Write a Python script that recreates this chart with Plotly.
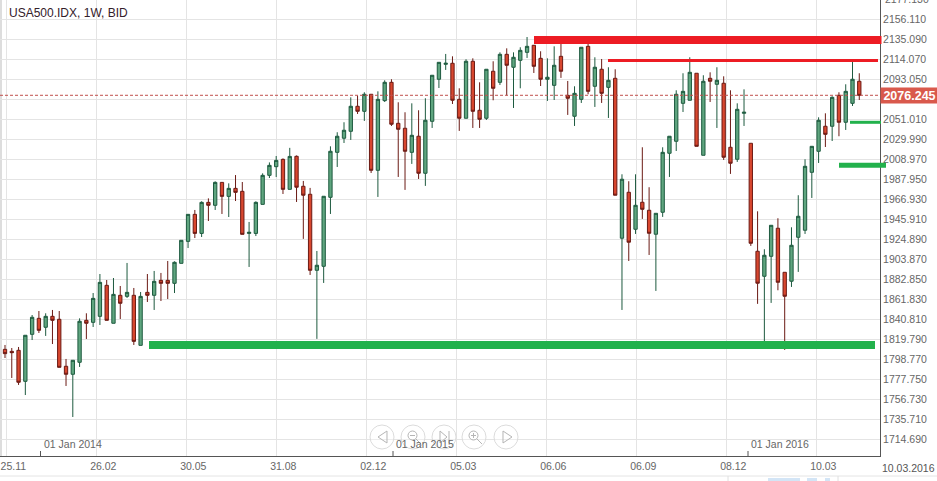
import plotly.graph_objects as go

opens = [1809.2,1807.1,1808.2,1775.6,1825.0,1841.8,1832.4,1843.9,1840.8,1791.4,
1783.0,1795.6,1839.7,1837.6,1843.9,1876.5,1836.6,1866.0,1864.9,1866.0,
1813.4,1869.1,1866.0,1881.7,1881.7,1878.6,1899.6,1922.7,1951.1,1931.1,
1963.7,1960.6,1984.7,1970.0,1978.4,1975.3,1931.1,1931.1,1961.6,1992.1,
2001.2,2008.9,1977.4,2012.1,1980.6,1972.2,1892.3,1896.5,1969.0,2016.3,
2031.1,2038.4,2064.7,2059.4,2077.3,1997.4,2070.6,2089.9,2046.8,2041.6,
2016.3,2033.2,1994.3,2048.9,2093.1,2108.8,2109.9,2072.0,2052.1,2112.0,
2060.5,2052.1,2101.5,2089.9,2119.3,2105.7,2113.0,2121.4,2128.8,2115.1,
2093.1,2086.7,2117.2,2076.2,2054.2,2072.0,2127.7,2085.7,2103.6,2084.6,
2094.1,1926.0,1974.3,1935.4,1963.8,1955.4,1930.2,1953.3,2015.3,2027.9,
2067.8,2071.0,2099.4,2013.2,2094.1,2087.8,2088.9,2021.6,2009.0,2057.3,
2025.8,1912.3,1886.0,1907.0,1936.5,1890.2,1880.8,1927.0,1934.4,1995.3,
2017.4,2043.7,2043.7,2076.2,2047.9,2067.8,2091.0]
highs = [1813.8,1810.6,1811.7,1824.0,1845.3,1849.5,1847.1,1850.6,1849.5,1799.1,
1797.7,1841.8,1847.1,1868.4,1888.4,1882.1,1884.2,1875.8,1900.0,1873.7,
1869.5,1888.4,1891.6,1889.5,1902.1,1901.7,1923.8,1951.1,1955.7,1964.8,
1967.9,1985.8,1984.7,1983.7,1992.4,1985.1,1943.1,1964.8,1994.2,2005.7,
2012.4,2009.9,2021.0,2013.0,1986.2,1978.9,1912.6,1970.1,2022.6,2037.4,
2047.9,2074.1,2075.9,2079.4,2077.3,2080.4,2092.0,2093.1,2068.9,2058.4,
2067.8,2060.5,2073.1,2097.3,2110.9,2119.7,2117.2,2083.6,2114.1,2115.1,
2089.9,2103.6,2112.0,2121.4,2125.6,2121.4,2126.7,2137.5,2129.1,2122.5,
2115.1,2127.7,2130.2,2091.3,2085.7,2126.7,2130.2,2116.2,2114.4,2105.7,
2103.6,1993.2,1985.9,1993.2,2021.6,1979.6,1952.2,2021.6,2033.2,2081.5,
2099.4,2116.2,2099.4,2097.3,2100.4,2105.7,2096.2,2081.5,2067.8,2082.5,
2025.8,1954.3,1914.4,1939.6,1947.0,1890.2,1937.5,1971.2,2009.0,2022.6,
2053.1,2057.3,2075.2,2079.4,2087.8,2111.2,2099.4]
lows = [1800.1,1779.1,1771.8,1761.2,1819.0,1826.4,1823.3,1814.8,1790.3,1770.7,
1738.1,1790.7,1820.1,1832.7,1834.8,1839.7,1836.6,1841.1,1863.2,1813.8,
1813.4,1859.0,1850.6,1860.0,1862.1,1868.4,1899.6,1915.7,1926.2,1927.3,
1944.1,1955.7,1951.5,1948.3,1965.1,1930.1,1895.8,1928.3,1961.6,1989.3,
1990.3,1972.5,1977.4,1964.1,1925.3,1887.4,1820.2,1879.0,1951.5,2000.9,
2026.1,2029.3,2056.6,2049.3,1994.6,1969.4,2069.2,2044.0,1990.4,1976.8,
2004.1,1988.3,1981.0,2041.9,2083.9,2102.9,2067.1,2038.8,2052.1,2041.9,
2041.9,2050.3,2071.0,2087.1,2076.2,2062.9,2083.6,2115.5,2099.7,2086.0,
2070.3,2071.3,2094.5,2055.6,2044.0,2068.2,2077.3,2064.0,2068.2,2052.4,
1971.2,1850.6,1902.1,1930.5,1946.3,1908.4,1870.6,1948.4,1990.4,2017.7,
2058.7,2071.0,2022.6,2013.2,2069.2,2041.9,2008.3,1993.6,2006.2,2044.0,
1917.9,1857.0,1817.4,1858.0,1871.3,1808.6,1874.8,1890.6,1930.5,1968.3,
2005.1,2021.9,2028.2,2033.2,2039.8,2065.0,2071.3]
closes = [1804.7,1805.7,1774.6,1824.0,1842.9,1829.2,1843.9,1839.7,1790.3,1783.0,
1797.7,1838.7,1836.6,1862.8,1879.6,1839.7,1867.0,1857.6,1869.1,1817.6,
1864.9,1866.0,1880.7,1878.6,1878.6,1900.7,1923.8,1951.1,1931.1,1963.7,
1960.6,1984.7,1970.0,1978.4,1974.2,1930.1,1932.2,1963.7,1992.1,2002.6,
2007.8,1977.4,2012.0,1979.6,1971.2,1892.3,1897.6,1970.1,2017.4,2033.2,
2039.5,2064.7,2059.4,2077.3,1997.4,2072.0,2089.9,2045.8,2040.5,2017.4,
2034.2,1994.3,2050.0,2097.3,2110.9,2109.9,2071.0,2052.1,2112.0,2059.4,
2051.0,2103.6,2083.6,2119.3,2107.8,2116.2,2123.5,2127.7,2106.7,2093.1,
2095.2,2107.8,2101.5,2073.1,2078.3,2126.7,2080.4,2105.7,2078.3,2092.0,
1971.2,1988.0,1921.8,1960.6,1956.4,1931.2,1952.2,2016.3,2033.2,2077.3,
2080.4,2100.4,2022.6,2091.0,2091.0,2092.0,2011.1,2004.8,2061.5,2058.4,
1920.7,1878.7,1908.1,1939.6,1879.7,1865.0,1918.6,1949.1,2001.6,2022.6,
2050.0,2035.2,2074.1,2047.9,2080.4,2093.1,2076.2]

y_ticks = [1714.69,1735.71,1756.73,1777.75,1798.77,1819.79,1840.81,1861.83,1882.85,1903.87,
1924.89,1945.91,1966.93,1987.95,2008.97,2029.99,2051.01,2072.03,2093.05,2114.07,2135.09,2156.11]
y_labels = ["1714.690","1735.710","1756.730","1777.750","1798.770","1819.790","1840.810","1861.830",
"1882.850","1903.870","1924.890","1945.910","1966.930","1987.950","2008.970","2029.990","2051.010","",
"2093.050","2114.070","2135.090","2156.110"]
x_labels = ["25.11","26.02","30.05","31.08","02.12","05.03","06.06","06.09","08.12","10.03"]
year_labels = ["01 Jan 2014","01 Jan 2015","01 Jan 2016"]
last_price = 2076.245

W, H = 937, 481
PL, PR, PT, PB = 0, 880, 0, 456
IDX_PER_PX = 1 / 6.78
x_lo = (PL - 5) * IDX_PER_PX
x_hi = (PR - 5) * IDX_PER_PX
y_lo, y_hi = 1697.1, 2176.4
FONT = "Liberation Sans"
TXT = dict(family=FONT, size=10.5, color="#666666")

def px(x):
    return (x - PL) / (PR - PL)
def py(y):
    return (PB - y) / (PB - PT)

grid_x = [(6.3 + 90 * k - 5) * IDX_PER_PX for k in range(len(x_labels))]

fig = go.Figure(go.Candlestick(
    x=list(range(len(opens))), open=opens, high=highs, low=lows, close=closes,
    increasing=dict(line=dict(color="#1d5a3f", width=1), fillcolor="#5fa57f"),
    decreasing=dict(line=dict(color="#6b1a14", width=1), fillcolor="#d8472f"),
    whiskerwidth=0, showlegend=False, hoverinfo="skip"))

shapes = []
annots = []

def band(x0, x1, price_y, thick, color):
    shapes.append(dict(type="line", xref="paper", yref="paper", x0=px(x0), x1=px(x1),
                       y0=py(price_y), y1=py(price_y), line=dict(color=color, width=thick), layer="above"))

# left border and the strip below the axis
shapes.append(dict(type="line", xref="paper", yref="paper", x0=px(1), x1=px(1), y0=0, y1=1,
                   line=dict(color="#dddddd", width=2), layer="below"))
band(0, 937, 476, 1, "#e4e4e4")
for sx in [728, 838]:
    shapes.append(dict(type="line", xref="paper", yref="paper", x0=px(sx), x1=px(sx), y0=py(476), y1=py(481),
                       line=dict(color="#e0e0e0", width=1)))
for a, b in [(768, 800), (807, 817), (825, 830)]:
    band(a, b, 479.5, 3, "#d3e5f6")

# last price line
shapes.append(dict(type="line", xref="paper", yref="y", x0=0, x1=1, y0=last_price, y1=last_price,
                   line=dict(color="#c0504d", width=1, dash="3px,2px"), layer="above"))
band(534, 881.5, 40, 8, "#ed1c24")
band(608, 878, 60.5, 3, "#ed1c24")
band(149, 875, 345, 8, "#22b14c")
band(850, 881, 122.3, 3, "#22b14c")
band(839, 886, 165.3, 5, "#22b14c")

# year ticks and labels
for tick, lab in zip([40.5, 393, 748], year_labels):
    shapes.append(dict(type="line", xref="paper", yref="paper", x0=px(tick), x1=px(tick),
                       y0=py(451), y1=py(456), line=dict(color="#555555", width=1)))
    annots.append(dict(text=lab, xref="paper", yref="paper", x=px(tick + 1), y=py(444), xanchor="left",
                       yanchor="middle", showarrow=False, font=TXT))

# navigator buttons
for cx in [382, 413, 444, 474, 506]:
    shapes.append(dict(type="circle", xref="paper", yref="paper",
                       x0=px(cx - 12), x1=px(cx + 12), y0=py(437 + 12), y1=py(437 - 12),
                       line=dict(color="#dcdcdc", width=1), fillcolor="rgba(255,255,255,0.35)"))
def poly(pts):
    return "M" + " L".join(f"{px(a):.5f},{py(b):.5f}" for a, b in pts)
GL = dict(color="#b5b5b5", width=1)
shapes += [
    dict(type="path", xref="paper", yref="paper", path=poly([(387, 431), (378, 437), (387, 443)]) + " Z", line=GL),
    dict(type="path", xref="paper", yref="paper", path=poly([(503, 431), (512, 437), (503, 443)]) + " Z", line=GL),
    dict(type="path", xref="paper", yref="paper", path=poly([(440, 431), (447, 437), (440, 443)]) + " Z", line=GL),
    dict(type="line", xref="paper", yref="paper", x0=px(449), x1=px(449), y0=py(431), y1=py(443), line=GL),
    dict(type="circle", xref="paper", yref="paper", x0=px(408), x1=px(417), y0=py(440), y1=py(431), line=GL),
    dict(type="line", xref="paper", yref="paper", x0=px(416), x1=px(421), y0=py(439), y1=py(444), line=GL),
    dict(type="line", xref="paper", yref="paper", x0=px(410), x1=px(415), y0=py(435.5), y1=py(435.5), line=GL),
    dict(type="circle", xref="paper", yref="paper", x0=px(469), x1=px(478), y0=py(440), y1=py(431), line=GL),
    dict(type="line", xref="paper", yref="paper", x0=px(477), x1=px(482), y0=py(439), y1=py(444), line=GL),
    dict(type="line", xref="paper", yref="paper", x0=px(471), x1=px(476), y0=py(435.5), y1=py(435.5), line=GL),
    dict(type="line", xref="paper", yref="paper", x0=px(473.5), x1=px(473.5), y0=py(433), y1=py(438), line=GL),
]

annots += [
    dict(text="USA500.IDX, 1W, BID", xref="paper", yref="paper", x=px(7), y=py(13), xanchor="left", yanchor="middle",
         showarrow=False, font=dict(family=FONT, size=12, color="#33202a")),
    dict(text="<b>%.3f</b>" % last_price, xref="paper", yref="y", x=px(880), y=last_price, xanchor="left", yanchor="middle",
         showarrow=False, bgcolor="#d9594c", font=dict(family=FONT, size=12.5, color="#ffffff"),
         borderpad=0, width=57, height=15, align="center"),
    dict(text="2177.130", xref="paper", yref="paper", x=px(883), y=py(-0.7), xanchor="left", yanchor="middle",
         showarrow=False, font=TXT),
    dict(text="10.03.2016", xref="paper", yref="paper", x=px(880), y=py(468), xanchor="left", yanchor="middle",
         showarrow=False, font=dict(family=FONT, size=10.5, color="#555555")),
]

fig.update_layout(
    width=W, height=H, autosize=False,
    margin=dict(l=PL, r=W - PR, t=PT, b=H - PB, pad=0),
    paper_bgcolor="#ffffff", plot_bgcolor="#ffffff",
    showlegend=False, shapes=shapes, annotations=annots,
    xaxis=dict(range=[x_lo, x_hi], rangeslider=dict(visible=False), tickmode="array",
               tickvals=grid_x, ticktext=x_labels, ticklabelshift=7, ticklabeloverflow="allow", ticks="",
               showgrid=True, gridcolor="#e4e4e4", gridwidth=1, zeroline=False,
               showline=True, linecolor="#555555", linewidth=1, tickfont=TXT),
    yaxis=dict(range=[y_lo, y_hi], side="right", tickmode="array", tickvals=y_ticks, ticktext=y_labels,
               ticks="", showgrid=True, gridcolor="#e4e4e4", gridwidth=1, zeroline=False,
               showline=True, linecolor="#555555", linewidth=1, tickfont=TXT),
)
fig.write_html("out.html", config=dict(displayModeBar=False),
               post_script="document.body.style.margin='0';document.body.style.overflow='hidden';")
